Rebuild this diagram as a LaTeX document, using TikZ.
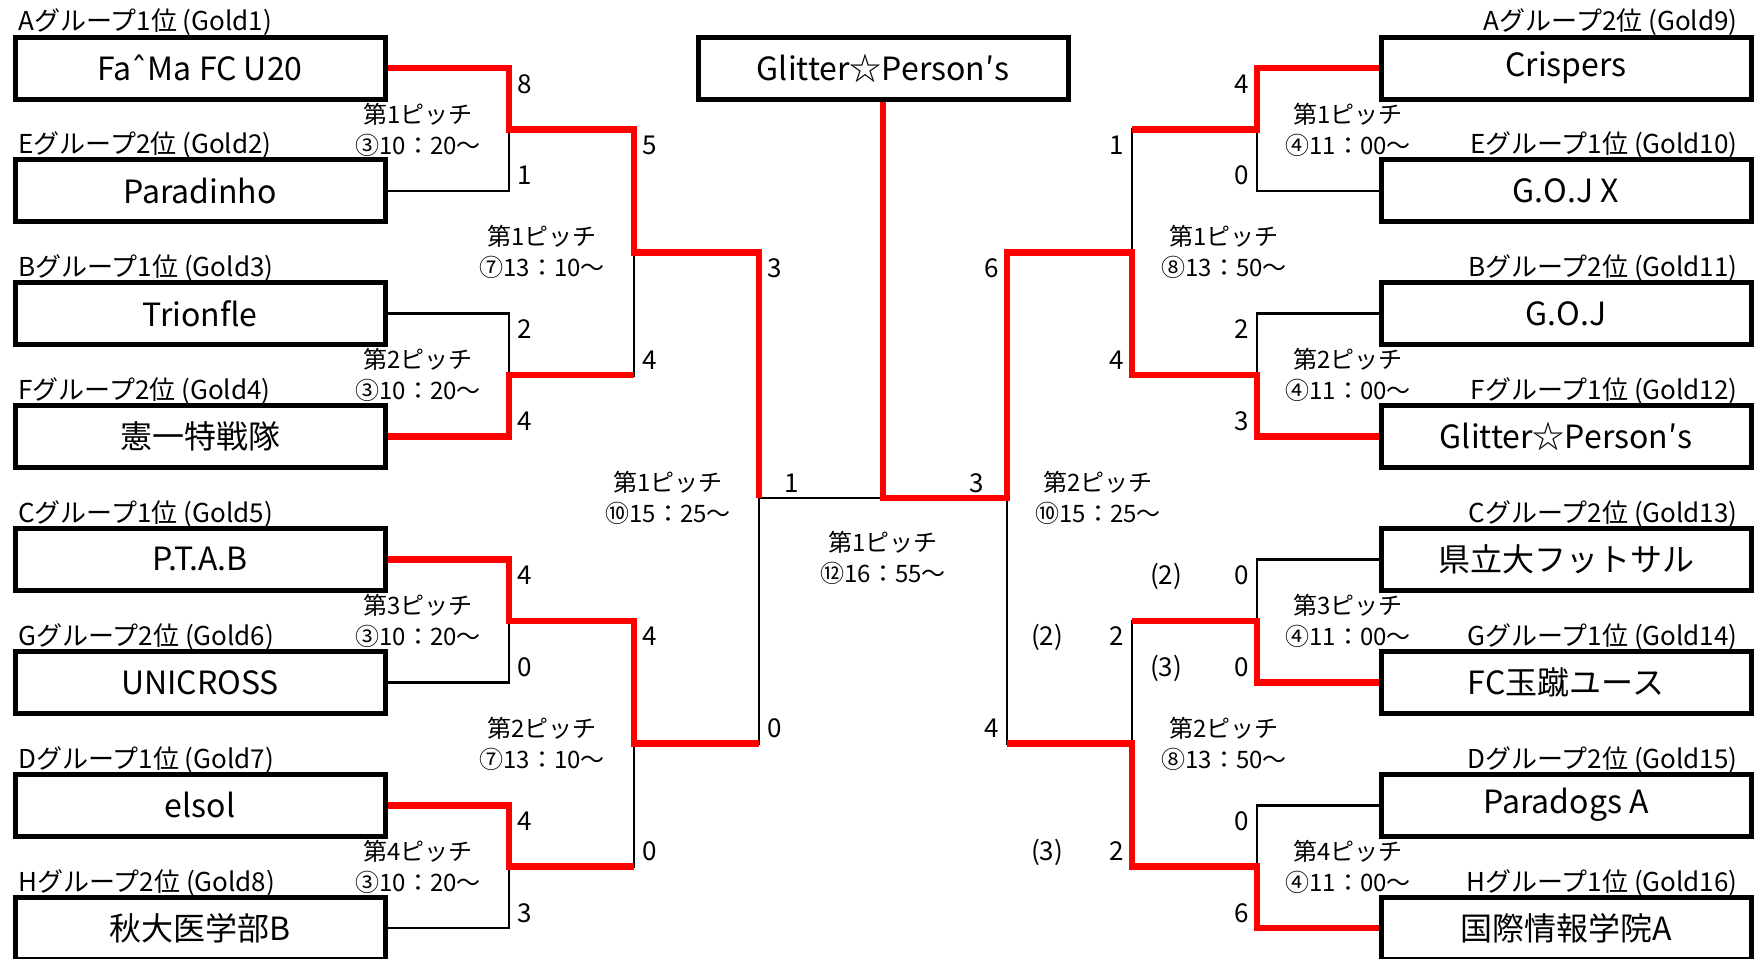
\documentclass[tikz,border=0pt]{standalone}
\usepackage{fontspec}
\setmainfont{Noto Sans CJK JP}
\newfontfamily\hatfont{DejaVu Sans}
\usetikzlibrary{positioning}
\definecolor{winred}{RGB}{255,0,0}
\tikzstyle{team} = [draw=black, line width=2.5pt, rectangle, minimum width=185pt,
    minimum height=31pt, inner sep=0pt, font=\fontsize{16}{19}\selectfont]
\tikzstyle{grouptag} = [inner sep=0pt, font=\fontsize{13}{15}\selectfont]
\tikzstyle{pitch} = [align=center, inner sep=0pt, font=\fontsize{12}{15.5}\selectfont]
\tikzstyle{score} = [inner sep=0pt, font=\fontsize{13}{15}\selectfont]
\tikzstyle{loser} = [draw=black, line width=1.4pt]
\tikzstyle{winner} = [draw=winred, line width=3.3pt]

\begin{document}
\begin{tikzpicture}[x=0.5pt, y=-0.5pt]
    \useasboundingbox (0,0) rectangle (1754,958);

    % teams, left side
    \node[team] (t1) at (200,68) {Fa{\hatfont ˆ}Ma FC U20};
    \node[team] (t2) at (200,190.9) {Paradinho};
    \node[team] (t3) at (200,313.7) {Trionfle};
    \node[team] (t4) at (200,436.6) {憲一特戦隊};
    \node[team] (t5) at (200,559.4) {P.T.A.B};
    \node[team] (t6) at (200,682.3) {UNICROSS};
    \node[team] (t7) at (200,805.2) {elsol};
    \node[team] (t8) at (200,928) {秋大医学部B};
    % teams, right side
    \node[team] (t9) at (1566,68) {Crispers};
    \node[team] (t10) at (1566,190.9) {G.O.J X};
    \node[team] (t11) at (1566,313.7) {G.O.J};
    \node[team] (t12) at (1566,436.6) {Glitter☆Person′s};
    \node[team] (t13) at (1566,559.4) {県立大フットサル};
    \node[team] (t14) at (1566,682.3) {FC玉蹴ユース};
    \node[team] (t15) at (1566,805.2) {Paradogs A};
    \node[team] (t16) at (1566,928) {国際情報学院A};
    \node[team] (champ) at (883,68) {Glitter☆Person′s};

    \node[grouptag, anchor=base west] at (18,31) {Aグループ1位 (Gold1)};
    \node[grouptag, anchor=base west] at (18,153.9) {Eグループ2位 (Gold2)};
    \node[grouptag, anchor=base west] at (18,276.7) {Bグループ1位 (Gold3)};
    \node[grouptag, anchor=base west] at (18,399.6) {Fグループ2位 (Gold4)};
    \node[grouptag, anchor=base west] at (18,522.4) {Cグループ1位 (Gold5)};
    \node[grouptag, anchor=base west] at (18,645.3) {Gグループ2位 (Gold6)};
    \node[grouptag, anchor=base west] at (18,768.2) {Dグループ1位 (Gold7)};
    \node[grouptag, anchor=base west] at (18,891) {Hグループ2位 (Gold8)};
    \node[grouptag, anchor=base east] at (1738,31) {Aグループ2位 (Gold9)};
    \node[grouptag, anchor=base east] at (1738,153.9) {Eグループ1位 (Gold10)};
    \node[grouptag, anchor=base east] at (1738,276.7) {Bグループ2位 (Gold11)};
    \node[grouptag, anchor=base east] at (1738,399.6) {Fグループ1位 (Gold12)};
    \node[grouptag, anchor=base east] at (1738,522.4) {Cグループ2位 (Gold13)};
    \node[grouptag, anchor=base east] at (1738,645.3) {Gグループ1位 (Gold14)};
    \node[grouptag, anchor=base east] at (1738,768.2) {Dグループ2位 (Gold15)};
    \node[grouptag, anchor=base east] at (1738,891) {Hグループ1位 (Gold16)};

    % match points
    \coordinate (m1) at (509,129.4);
    \coordinate (m2) at (509,375.1);
    \coordinate (m3) at (509,620.9);
    \coordinate (m4) at (509,866.6);
    \coordinate (n1) at (634,252.3);
    \coordinate (n2) at (634,743.7);
    \coordinate (s1) at (759,498);
    \coordinate (f) at (883,498);
    \coordinate (s2) at (1007,498);
    \coordinate (n3) at (1132,252.3);
    \coordinate (n4) at (1132,743.7);
    \coordinate (m5) at (1257,129.4);
    \coordinate (m6) at (1257,375.1);
    \coordinate (m7) at (1257,620.9);
    \coordinate (m8) at (1257,866.6);

    \draw[loser] (t1.east) -| (m1) |- (t2.east);
    \draw[loser] (t3.east) -| (m2) |- (t4.east);
    \draw[loser] (t5.east) -| (m3) |- (t6.east);
    \draw[loser] (t7.east) -| (m4) |- (t8.east);
    \draw[loser] (m1) -| (n1) |- (m2);
    \draw[loser] (m3) -| (n2) |- (m4);
    \draw[loser] (n1) -| (s1) |- (n2);
    \draw[loser] (t9.west) -| (m5) |- (t10.west);
    \draw[loser] (t11.west) -| (m6) |- (t12.west);
    \draw[loser] (t13.west) -| (m7) |- (t14.west);
    \draw[loser] (t15.west) -| (m8) |- (t16.west);
    \draw[loser] (m5) -| (n3) |- (m6);
    \draw[loser] (m7) -| (n4) |- (m8);
    \draw[loser] (n3) -| (s2) |- (n4);
    \draw[loser] (s1) -- (f) -- (s2);

    \draw[winner] (t1.east) -| (m1) -| (n1) -| (s1);
    \draw[winner] (t4.east) -| (m2) -- (m2 -| n1);
    \draw[winner] (t5.east) -| (m3) -| (n2) -- (n2 -| s1);
    \draw[winner] (t7.east) -| (m4) -- (m4 -| n2);
    \draw[winner] (t9.west) -| (m5) -- (m5 -| n3);
    \draw[winner] (t12.west) -| (m6) -| (n3) -| (s2) -| (champ.south);
    \draw[winner] (t14.west) -| (m7) -- (m7 -| n4);
    \draw[winner] (t16.west) -| (m8) -| (n4) -- (n4 -| s2);

    % scores
    \node[score, anchor=base west] at (517,93) {8};
    \node[score, anchor=base west] at (517,184.9) {1};
    \node[score, anchor=base west] at (517,338.7) {2};
    \node[score, anchor=base west] at (517,430.6) {4};
    \node[score, anchor=base west] at (517,584.4) {4};
    \node[score, anchor=base west] at (517,676.3) {0};
    \node[score, anchor=base west] at (517,830.2) {4};
    \node[score, anchor=base west] at (517,922) {3};
    \node[score, anchor=base west] at (642,154.4) {5};
    \node[score, anchor=base west] at (642,369.1) {4};
    \node[score, anchor=base west] at (642,645.9) {4};
    \node[score, anchor=base west] at (642,860.6) {0};
    \node[score, anchor=base west] at (767,277.3) {3};
    \node[score, anchor=base west] at (767,737.7) {0};
    \node[score, anchor=base] at (792,492) {1};
    \node[score, anchor=base] at (977,492) {3};
    \node[score, anchor=base east] at (999,277.3) {6};
    \node[score, anchor=base east] at (999,737.7) {4};
    \node[score, anchor=base east] at (1124,154.4) {1};
    \node[score, anchor=base east] at (1124,369.1) {4};
    \node[score, anchor=base east] at (1124,645.9) {2};
    \node[score, anchor=base east] at (1124,860.6) {2};
    \node[score, anchor=base] at (1047,645.9) {(2)};
    \node[score, anchor=base] at (1047,860.6) {(3)};
    \node[score, anchor=base east] at (1249,93) {4};
    \node[score, anchor=base east] at (1249,184.9) {0};
    \node[score, anchor=base east] at (1249,338.7) {2};
    \node[score, anchor=base east] at (1249,430.6) {3};
    \node[score, anchor=base east] at (1249,584.4) {0};
    \node[score, anchor=base east] at (1249,676.3) {0};
    \node[score, anchor=base] at (1166,584.4) {(2)};
    \node[score, anchor=base] at (1166,676.3) {(3)};
    \node[score, anchor=base east] at (1249,830.2) {0};
    \node[score, anchor=base east] at (1249,922) {6};

    % pitch and kick-off
    \node[pitch] at (418,129.4) {第1ピッチ\\③10：20～};
    \node[pitch] at (418,375.1) {第2ピッチ\\③10：20～};
    \node[pitch] at (418,620.9) {第3ピッチ\\③10：20～};
    \node[pitch] at (418,866.6) {第4ピッチ\\③10：20～};
    \node[pitch] at (542,252.3) {第1ピッチ\\⑦13：10～};
    \node[pitch] at (542,743.7) {第2ピッチ\\⑦13：10～};
    \node[pitch] at (668,498) {第1ピッチ\\⑩15：25～};
    \node[pitch] at (883,558) {第1ピッチ\\⑫16：55～};
    \node[pitch] at (1098,498) {第2ピッチ\\⑩15：25～};
    \node[pitch] at (1224,252.3) {第1ピッチ\\⑧13：50～};
    \node[pitch] at (1224,743.7) {第2ピッチ\\⑧13：50～};
    \node[pitch] at (1348,129.4) {第1ピッチ\\④11：00～};
    \node[pitch] at (1348,375.1) {第2ピッチ\\④11：00～};
    \node[pitch] at (1348,620.9) {第3ピッチ\\④11：00～};
    \node[pitch] at (1348,866.6) {第4ピッチ\\④11：00～};
\end{tikzpicture}
\end{document}
